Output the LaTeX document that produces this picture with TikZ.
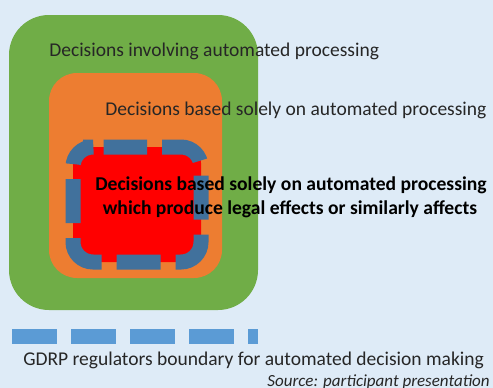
\documentclass[tikz,border=0pt]{standalone}
\usepackage{fontspec}
\setmainfont{Carlito}
\usepackage{tikz}
\usetikzlibrary{positioning,calc}

\definecolor{paleblue}{HTML}{DEEBF7}
\definecolor{leafgreen}{HTML}{70AD47}
\definecolor{burntorange}{HTML}{ED7D31}
\definecolor{steelblue}{HTML}{41719C}
\definecolor{skyblue}{HTML}{5B9BD5}
\definecolor{inkgray}{HTML}{262626}

\begin{document}
\begin{tikzpicture}[x=1pt, y=-1pt, semithick]
    \tikzstyle{layer}=[draw=none]
    \tikzstyle{label}=[inner sep=0pt, anchor=base west, text=inkgray, font=\fontsize{19.5}{22}\selectfont]
    \tikzstyle{strong}=[label, anchor=base, text=black, font=\fontsize{19.6}{22}\selectfont\bfseries]
    \tikzstyle{boundary}=[line width=15pt, dash pattern=on 44pt off 15pt]
    % background
    \fill[paleblue] (0,0) rectangle (493,388);
    \useasboundingbox (0,0) rectangle (493,388);
    % nested decision sets
    \fill[layer, leafgreen, rounded corners=40pt]   (9,15)   rectangle (258,310);
    \fill[layer, burntorange, rounded corners=28pt] (49,73)  rectangle (222,278);
    \fill[layer, red, rounded corners=16pt]         (73,147) rectangle (201,262);
    \draw[boundary, steelblue, rounded corners=20pt, dash phase=20pt]
        (103,147) -- (201,147) -- (201,262) -- (73,262) -- (73,147) -- cycle;
    % regulator boundary key
    \coordinate (keyA) at (12,336.5);
    \coordinate (keyB) at (258,336.5);
    \draw[boundary, skyblue, dash pattern=on 44.5pt off 14.5pt] (keyA) -- (keyB);
    % labels
    \node[label] (involving) at (49,56)    {Decisions involving automated processing};
    \node[label] (solely)    at (105,115)  {Decisions based solely on automated processing};
    \node[strong] (legalA)   at (291,190.7) {Decisions based solely on automated processing};
    \node[strong] (legalB)   at ($(legalA.base)+(-1,23.3)$) {which produce legal effects or similarly affects};
    \node[label] (gdrp)      at (23,365.7) {GDRP regulators boundary for automated decision making};
    \node[label, anchor=base east, font=\fontsize{17}{19}\selectfont\itshape] (source) at (490,386)
        {Source: participant presentation};
\end{tikzpicture}
\end{document}
